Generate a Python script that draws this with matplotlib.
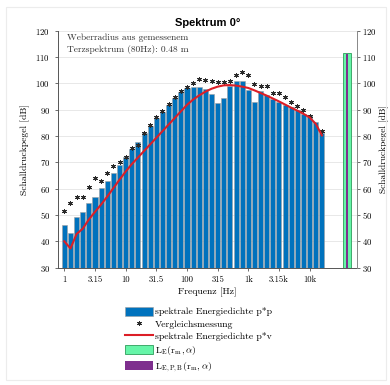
import numpy as np
import matplotlib.pyplot as plt
from matplotlib.patches import Rectangle

# serif look like LaTeX (bundled Computer Modern)
plt.rcParams['font.family'] = ['cmr10', 'DejaVu Serif']
plt.rcParams['mathtext.fontset'] = 'cm'
plt.rcParams['axes.formatter.use_mathtext'] = True

# third octave bands 1 Hz .. 16 kHz
bands = ['1', '1.25', '1.6', '2', '2.5', '3.15', '4', '5', '6.3', '8',
         '10', '12.5', '16', '20', '25', '31.5', '40', '50', '63', '80',
         '100', '125', '160', '200', '250', '315', '400', '500', '630', '800',
         '1k', '1.25k', '1.6k', '2k', '2.5k', '3.15k', '4k', '5k', '6.3k', '8k',
         '10k', '12.5k', '16k']
tick_labels = ['1', '3.15', '10', '31.5', '100', '315', '1k', '3.15k', '10k']

# spektrale Energiedichte p*p (bars)
pp = [46.2, 43.0, 49.1, 51.0, 54.4, 56.8, 60.1, 63.0, 66.0, 68.9,
      71.9, 75.2, 77.8, 81.0, 83.7, 86.7, 89.2, 91.7, 94.5, 96.8,
      98.3, 98.6, 98.6, 97.8, 95.8, 92.6, 94.5, 98.8, 100.7, 101.0,
      97.5, 92.9, 97.2, 95.5, 94.2, 93.0, 91.8, 90.8, 89.8, 88.5,
      87.5, 85.4, 81.2]
# Vergleichsmessung (stars)
ref = [51.5, 54.6, 56.9, 56.9, 60.5, 64.1, 63.0, 65.8, 68.7, 70.2,
       72.1, 75.5, 76.5, 81.3, 84.2, 87.0, 89.5, 92.0, 94.8, 97.0,
       98.4, 100.2, 101.6, 101.2, 100.9, 100.6, 100.5, 100.8, 103.1, 104.4,
       103.1, 99.7, 99.0, 99.0, 96.4, 96.4, 94.9, 93.0, 91.3, 90.0,
       87.4, np.nan, 81.8]
# spektrale Energiedichte p*v (line)
pv = [40.0, 37.3, 42.8, 44.8, 48.3, 51.2, 54.0, 57.0, 60.2, 63.4,
      66.5, 69.3, 71.8, 74.3, 76.8, 79.3, 81.8, 84.3, 86.8, 89.3,
      91.8, 93.8, 95.4, 96.8, 97.9, 98.7, 99.2, 99.3, 99.1, 98.7,
      98.2, 97.3, 96.3, 95.3, 94.2, 93.1, 91.9, 90.7, 89.6, 88.4,
      87.0, 84.6, 80.2]
# broadband levels
L_E = 111.4
L_EPB = 111.2

x = np.arange(len(bands))
x_broad = 46.1

fig = plt.figure(figsize=(3.9, 3.85), dpi=100)
fig.patches.append(Rectangle((6/390, 1 - 380/385), 380/390, 373/385,
                             transform=fig.transFigure, fill=False,
                             edgecolor='#ececec', linewidth=0.8))
ax = fig.add_axes([0.148, 0.3047, 0.767, 0.616])

ax.yaxis.grid(True, color='#e4e4e4', linewidth=0.6)
ax.set_axisbelow(True)
b1 = ax.bar(x, np.array(pp) - 30, bottom=30, width=0.82, color='#0072BD',
            edgecolor='#a0a0a0', linewidth=0.4, label='spektrale Energiedichte p*p')
s1, = ax.plot(x, ref, linestyle='none', marker=(6, 2, 0), markersize=3.4,
              color='#2a2a2a', markeredgewidth=0.7, label='Vergleichsmessung')
l1, = ax.plot(x, pv, color='#DC1E26', linewidth=1.5,
              label='spektrale Energiedichte p*v')

ax.set_xlim(-1.08, 47.7)
ax.set_ylim(30, 120)
ax.set_yticks(np.arange(30, 121, 10))
ax.set_xticks(x[::5])
ax.set_xticklabels(tick_labels)
ax.tick_params(labelsize=6.3, length=2, width=0.6, color='#555555')
for side in ['top', 'right']:
    ax.spines[side].set_visible(False)
for side in ['left', 'bottom']:
    ax.spines[side].set_color('#555555')
    ax.spines[side].set_linewidth(0.7)
ax.set_xlabel('Frequenz [Hz]', fontsize=7, labelpad=3)
ax.set_ylabel('Schalldruckpegel [dB]', fontsize=7, labelpad=4)
ax.set_title('Spektrum 0°', family='Liberation Sans', fontweight='bold',
             fontsize=8, pad=3, x=0.5)

ax.text(0.03, 0.985, 'Weberradius aus gemessenem\nTerzspektrum (80Hz): 0.48 m',
        transform=ax.transAxes, ha='left', va='top', fontsize=6.8,
        color='#333333', linespacing=1.35)

# right axis with broadband values
ax2 = ax.twinx()
ax2.set_ylim(30, 120)
ax2.set_yticks(np.arange(30, 121, 10))
b2 = ax2.bar(x_broad, L_E - 30, bottom=30, width=1.25, color='#66F5A8',
             edgecolor='#2E9E5B', linewidth=0.6, label=r'$\mathrm{L}_{\mathrm{E}}(\mathrm{r}_{\mathrm{m}},\alpha)$')
b3 = ax2.bar(x_broad, L_EPB - 30, bottom=30, width=0.4, color='#7E2F8E',
             linewidth=0, label=r'$\mathrm{L}_{\mathrm{E,P,B}}(\mathrm{r}_{\mathrm{m}},\alpha)$')
ax2.tick_params(labelsize=6.3, length=2, width=0.6, color='#555555', pad=2)
for side in ['top', 'left', 'bottom']:
    ax2.spines[side].set_visible(False)
ax2.spines['right'].set_color('#888888')
ax2.spines['right'].set_linewidth(0.7)
ax2.set_ylabel('Schalldruckpegel [dB]', fontsize=6.8, rotation=90, labelpad=2)

fig.legend(handles=[b1, s1, l1, b2, b3], loc='upper left',
           bbox_to_anchor=(118/390, 1 - 300/385), frameon=False, fontsize=7,
           handlelength=2.9, handleheight=1.0, handletextpad=0.2,
           labelspacing=0.28, borderpad=0.2)

fig.savefig('out.png', dpi=100)
